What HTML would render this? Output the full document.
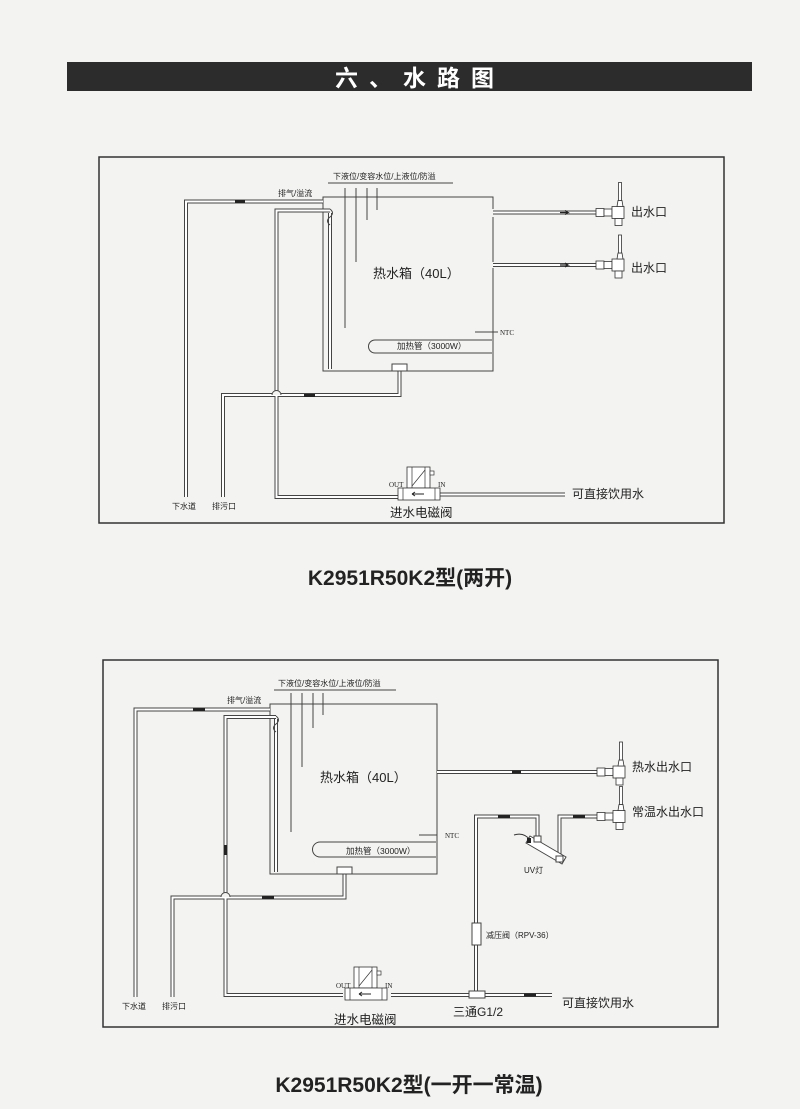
<!DOCTYPE html>
<html><head><meta charset="utf-8"><style>
html,body{margin:0;padding:0;background:#f3f3f1;}
svg{display:block}
text{font-family:"Liberation Sans","Noto Sans CJK SC",sans-serif;fill:#222}
</style></head><body>
<svg width="800" height="1109" viewBox="0 0 800 1109" xmlns="http://www.w3.org/2000/svg">
<defs>
<g id="fau">
 <rect x="0" y="-4" width="8" height="8" fill="#fff" stroke="#333" stroke-width="0.8"/>
 <rect x="8" y="-3.5" width="8" height="7" fill="#fff" stroke="#333" stroke-width="0.8"/>
 <rect x="16" y="-6" width="12" height="12" fill="#fff" stroke="#333" stroke-width="0.8"/>
 <path d="M21 -6 L22 -12 L26 -12 L27 -6 Z" fill="#fff" stroke="#333" stroke-width="0.8"/>
 <rect x="22.5" y="-30" width="3" height="18" fill="#fff" stroke="#333" stroke-width="0.8"/>
 <rect x="19" y="6" width="7" height="7" fill="#fff" stroke="#333" stroke-width="0.8"/>
</g>
<g id="valve">
 <rect x="9" y="0" width="23" height="21" fill="#fff" stroke="#333" stroke-width="0.8"/>
 <line x1="14" y1="0" x2="14" y2="21" stroke="#333" stroke-width="0.7"/>
 <line x1="27" y1="0" x2="27" y2="21" stroke="#333" stroke-width="0.7"/>
 <line x1="14" y1="19" x2="27" y2="3" stroke="#333" stroke-width="0.7"/>
 <rect x="32" y="4" width="4" height="4" fill="#fff" stroke="#333" stroke-width="0.7"/>
 <rect x="0" y="21" width="42" height="12" fill="#fff" stroke="#333" stroke-width="0.8"/>
 <line x1="5" y1="21" x2="5" y2="33" stroke="#333" stroke-width="0.7"/>
 <line x1="37" y1="21" x2="37" y2="33" stroke="#333" stroke-width="0.7"/>
 <path d="M14 27 L26 27 M14 27 l3 -2 M14 27 l3 2" stroke="#222" stroke-width="1"/>
</g>
</defs>

<!-- title -->
<rect x="67" y="62" width="685" height="29" fill="#2c2c2c"/>
<text x="420" y="86" font-size="23" font-weight="bold" text-anchor="middle" style="fill:#fff" letter-spacing="11">六、水路图</text>

<!-- ========== Diagram 1 ========== -->
<rect x="99" y="157" width="625" height="366" fill="none" stroke="#333" stroke-width="1.5"/>
<g fill="none">
 <path d="M493 209 V197 H323 V371 H493 V268 M493 262 V217" stroke="#444" stroke-width="1"/>
 <line x1="328" y1="183" x2="453" y2="183" stroke="#444" stroke-width="1"/>
 <line x1="345" y1="188" x2="345" y2="328" stroke="#444"/>
 <line x1="356" y1="188" x2="356" y2="262" stroke="#444"/>
 <line x1="367" y1="188" x2="367" y2="220" stroke="#444"/>
 <line x1="377" y1="188" x2="377" y2="210" stroke="#444"/>
 <g stroke="#444" stroke-width="4">
  <path d="M323 201.5 H186 V497"/>
  <path d="M330 210.5 H276.5 V497 H400"/>
  <path d="M330 213 V369"/>
  <path d="M223 497 V395 H399.5 V371"/>
  <path d="M440 494.5 H565"/>
  <path d="M493 212.5 H596"/>
  <path d="M493 265 H596"/>
 </g>
 <g stroke="#fff" stroke-width="2">
  <path d="M323 201.5 H186 V497"/>
  <path d="M330 210.5 H276.5 V497 H400"/>
  <path d="M330 213 V369"/>
  <path d="M223 497 V395 H399.5 V371"/>
  <path d="M440 494.5 H565"/>
  <path d="M493 212.5 H596"/>
  <path d="M493 265 H596"/>
 </g>
 <path d="M330 209 q5 4 0 8 q-5 4 0 8" stroke="#444" stroke-width="1"/>
 <path d="M272 395 a4.5 4.5 0 0 1 9 0" stroke="#444" stroke-width="1" fill="#f3f3f1"/>
 <path d="M492 340 H375 a6.5 6.5 0 0 0 0 13 H492" stroke="#444" stroke-width="1"/>
 <line x1="475" y1="332" x2="498" y2="332" stroke="#444"/>
 <rect x="392" y="364" width="15" height="7" fill="#fff" stroke="#444"/>
</g>
<rect x="235" y="200" width="10" height="3" fill="#222"/>
<rect x="304" y="394" width="11" height="3" fill="#222"/>
<path d="M560 212.5 H568 l-3 -2 M568 212.5 l-3 2" stroke="#222" stroke-width="1.2" fill="none"/>
<path d="M560 265 H568 l-3 -2 M568 265 l-3 2" stroke="#222" stroke-width="1.2" fill="none"/>
<use href="#fau" x="596" y="212.5"/>
<use href="#fau" x="596" y="265"/>
<use href="#valve" x="398" y="467"/>
<text x="333" y="179" font-size="8">下液位/变容水位/上液位/防溢</text>
<text x="278" y="196" font-size="8">排气/溢流</text>
<text x="373" y="278" font-size="13">热水箱（40L）</text>
<text x="397" y="349" font-size="8.5">加热管（3000W）</text>
<text x="500" y="335" font-size="7" style="font-family:'Liberation Serif',serif">NTC</text>
<text x="389" y="487" font-size="7" style="font-family:'Liberation Serif',serif">OUT</text>
<text x="438" y="487" font-size="7" style="font-family:'Liberation Serif',serif">IN</text>
<text x="172" y="509" font-size="8">下水道</text>
<text x="212" y="509" font-size="8">排污口</text>
<text x="390" y="517" font-size="12.5">进水电磁阀</text>
<text x="572" y="498" font-size="12">可直接饮用水</text>
<text x="631" y="216" font-size="12">出水口</text>
<text x="631" y="272" font-size="12">出水口</text>
<text x="410" y="585" font-size="21" font-weight="bold" text-anchor="middle">K2951R50K2型(两开)</text>

<!-- ========== Diagram 2 ========== -->
<rect x="103" y="660" width="615" height="367" fill="none" stroke="#333" stroke-width="1.5"/>
<g fill="none">
 <rect x="270" y="704" width="167" height="170" stroke="#444"/>
 <line x1="274" y1="690" x2="396" y2="690" stroke="#444"/>
 <line x1="291" y1="693" x2="291" y2="832" stroke="#444"/>
 <line x1="302" y1="693" x2="302" y2="767" stroke="#444"/>
 <line x1="313" y1="693" x2="313" y2="728" stroke="#444"/>
 <line x1="323" y1="693" x2="323" y2="715" stroke="#444"/>
 <g stroke="#444" stroke-width="4">
  <path d="M270 709.5 H135.5 V997"/>
  <path d="M276 717 H225.5 V995 H343"/>
  <path d="M276 719 V872"/>
  <path d="M172.5 997 V897.5 H344.5 V874"/>
  <path d="M391 995 H552"/>
  <path d="M437 772 H597"/>
  <path d="M476 994 V816.5 H537.5 V838"/>
  <path d="M559.5 858 V816.5 H597"/>
 </g>
 <g stroke="#fff" stroke-width="2">
  <path d="M270 709.5 H135.5 V997"/>
  <path d="M276 717 H225.5 V995 H343"/>
  <path d="M276 719 V872"/>
  <path d="M172.5 997 V897.5 H344.5 V874"/>
  <path d="M391 995 H552"/>
  <path d="M437 772 H597"/>
  <path d="M476 994 V816.5 H537.5 V838"/>
  <path d="M559.5 858 V816.5 H597"/>
 </g>
 <path d="M276 716 q5 4 0 8 q-5 4 0 8" stroke="#444"/>
 <path d="M221 897 a4.5 4.5 0 0 1 9 0" stroke="#444" fill="#f3f3f1"/>
 <path d="M436 842 H320 a7.5 7.5 0 0 0 0 15 H436" stroke="#444"/>
 <line x1="419" y1="835" x2="437" y2="835" stroke="#444"/>
 <rect x="337" y="867" width="15" height="7" fill="#fff" stroke="#444"/>
 <path d="M530 836 L566 857 L562 864 L526 843 Z" fill="#fff" stroke="#444"/>
 <rect x="534" y="836" width="7" height="6" fill="#fff" stroke="#444"/>
 <rect x="556" y="856" width="7" height="6" fill="#fff" stroke="#444"/>
 <path d="M530 840 q-6 -8 -16 -5" stroke="#333"/>
 <rect x="472" y="923" width="9" height="22" fill="#fff" stroke="#444"/>
 <rect x="469" y="991" width="16" height="7" fill="#fff" stroke="#444"/>
</g>
<rect x="193" y="708" width="12" height="3" fill="#222"/>
<rect x="224" y="845" width="3" height="10" fill="#222"/>
<rect x="262" y="896" width="12" height="3" fill="#222"/>
<rect x="512" y="770.5" width="9" height="3" fill="#222"/>
<rect x="498" y="815" width="12" height="3" fill="#222"/>
<rect x="573" y="815" width="12" height="3" fill="#222"/>
<rect x="524" y="993.5" width="12" height="3" fill="#222"/>
<rect x="527" y="838" width="4" height="5" fill="#222"/>
<use href="#fau" x="597" y="772"/>
<use href="#fau" x="597" y="816.5"/>
<use href="#valve" x="345" y="967"/>
<text x="278" y="686" font-size="8">下液位/变容水位/上液位/防溢</text>
<text x="227" y="703" font-size="8">排气/溢流</text>
<text x="320" y="782" font-size="13">热水箱（40L）</text>
<text x="346" y="854" font-size="8.5">加热管（3000W）</text>
<text x="445" y="838" font-size="7" style="font-family:'Liberation Serif',serif">NTC</text>
<text x="336" y="988" font-size="7" style="font-family:'Liberation Serif',serif">OUT</text>
<text x="385" y="988" font-size="7" style="font-family:'Liberation Serif',serif">IN</text>
<text x="122" y="1009" font-size="8">下水道</text>
<text x="162" y="1009" font-size="8">排污口</text>
<text x="334" y="1024" font-size="12.5">进水电磁阀</text>
<text x="453" y="1016" font-size="12">三通G1/2</text>
<text x="562" y="1007" font-size="12">可直接饮用水</text>
<text x="486" y="938" font-size="8">减压阀（RPV-36）</text>
<text x="524" y="873" font-size="8">UV灯</text>
<text x="632" y="771" font-size="12">热水出水口</text>
<text x="632" y="816" font-size="12">常温水出水口</text>
<text x="409" y="1092" font-size="21" font-weight="bold" text-anchor="middle">K2951R50K2型(一开一常温)</text>
</svg>
</body></html>
